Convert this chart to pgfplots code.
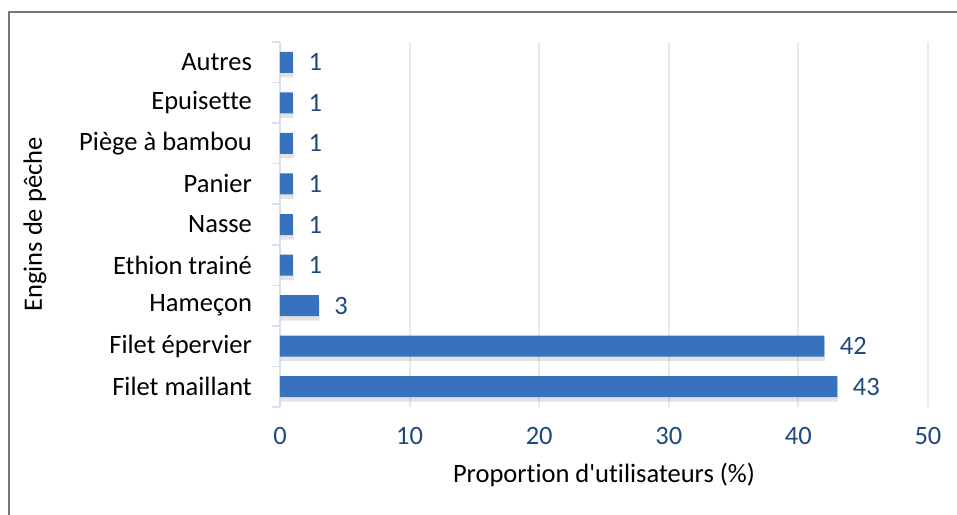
\documentclass[border=0pt]{standalone}
\usepackage{fontspec}
\setmainfont{Carlito}[Ligatures={NoCommon}]
\usepackage{pgfplots}
\pgfplotsset{compat=1.18}
\usetikzlibrary{shadows}

\definecolor{axisblue}{RGB}{214,224,240}
\definecolor{gridbeige}{RGB}{237,233,222}
\definecolor{labelblue}{RGB}{31,73,125}
\definecolor{barblue}{RGB}{56,114,190}
\definecolor{framegray}{RGB}{118,118,118}

\begin{document}
\fontsize{10.6pt}{13pt}\selectfont
\begin{tikzpicture}
% picture box: 1 px of the reference = 0.4pt, origin at the plot's lower left corner
\useasboundingbox (-112pt,-43.2pt) rectangle (270.8pt,162.8pt);
% outer frame (only left and top edges fall inside the picture)
\draw[framegray, line width=0.8pt] (-108.4pt,-50pt) -- (-108.4pt,158pt) -- (280pt,158pt);

\begin{axis}[
  at={(0pt,0pt)}, anchor=south west,
  scale only axis,
  width=259.2pt, height=146pt,
  xbar, bar width=8.4pt,
  xmin=0, xmax=50, ymin=-0.5, ymax=8.5,
  xtick={0,10,...,50},
  ytick={0,...,8},
  yticklabels={Filet maillant, Filet épervier, Hameçon, Ethion trainé, Nasse, Panier, Piège à bambou, Epuisette, Autres},
  minor ytick={-0.5,0.5,...,8.5},
  major tick length=0pt,
  minor tick length=3.2pt,
  tick align=outside,
  minor tick style={draw=axisblue, line width=0.6pt},
  axis y line*=left, axis x line*=bottom,
  x axis line style={draw=none},
  y axis line style={-, draw=axisblue, line width=0.6pt},
  xmajorgrids, grid style={gridbeige, line width=0.8pt},
  /pgf/number format/assume math mode=true,
  xticklabel style={text=labelblue, yshift=-4.3pt},
  yticklabel style={xshift=-7.5pt},
  xlabel={Proportion d\textquotesingle utilisateurs (\%)},
  ylabel={Engins de pêche},
  xlabel style={at={(rel axis cs:0.5,-0.186)}, anchor=center},
  ylabel style={at={(rel axis cs:-0.378,0.5)}, anchor=center, rotate=0},
  nodes near coords,
  nodes near coords style={anchor=west, xshift=2.5pt, text=labelblue},
]
\addplot[draw=none, fill=barblue,
  drop shadow={shadow xshift=0.3pt, shadow yshift=-1.8pt, opacity=0.22}]
  coordinates {
  (43,0) (42,1) (3,2) (1,3) (1,4) (1,5) (1,6) (1,7) (1,8)
};
\end{axis}
\end{tikzpicture}
\end{document}
